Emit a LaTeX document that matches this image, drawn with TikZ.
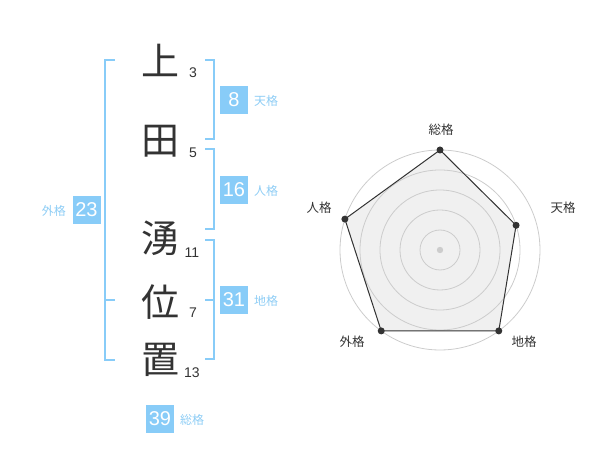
\documentclass[tikz,border=0pt]{standalone}
\usepackage{fontspec}
\usetikzlibrary{calc}
\setmainfont{Liberation Sans}
\newfontfamily\jp{Noto Sans CJK JP}
\definecolor{sky}{HTML}{88CCF8}
\definecolor{skytext}{HTML}{8ECDF5}
\definecolor{ink}{HTML}{333333}
\definecolor{ring}{HTML}{CCCCCC}
\definecolor{area}{HTML}{F0F0F0}
\begin{document}
\begin{tikzpicture}[x=1pt,y=-1pt,
  kanji/.style={font=\jp\fontsize{38}{38}\selectfont, text=ink, inner sep=0pt},
  strokes/.style={font=\fontsize{14}{14}\selectfont, text=ink, inner sep=0pt},
  br/.style={draw=sky, line width=2pt},
  numbox/.style={fill=sky, text=white, minimum width=28pt, minimum height=28pt, inner sep=0pt, font=\fontsize{20}{20}\selectfont},
  lbl/.style={text=skytext, font=\jp\fontsize{12}{12}\selectfont, inner sep=0pt},
  rlbl/.style={text=ink, font=\jp\fontsize{12.5}{12.5}\selectfont, inner sep=0pt},
  ringc/.style={draw=ring, line width=0.8pt},
  dot/.style={circle, fill=ink, inner sep=0pt, minimum size=7pt}
]
\useasboundingbox (0,0) rectangle (600,470);

% kanji
\node[kanji] (k1) at (160,60) {上};
\node[kanji] (k2) at (160,141) {田};
\node[kanji] (k3) at (160,238) {湧};
\node[kanji] (k4) at (160,302) {位};
\node[kanji] (k5) at (160,360) {置};

% stroke counts
\node[strokes] (s1) at (193,73) {3};
\node[strokes] (s2) at (193,153) {5};
\node[strokes] (s3) at (192,253) {11};
\node[strokes] (s4) at (193,313) {7};
\node[strokes] (s5) at (192,373) {13};

% brackets
\coordinate (L1) at (115,60); \coordinate (L2) at (115,360); \coordinate (L3) at (115,300);
\draw[br] (L1) -| (105,360) -- (L2);
\draw[br] (L3) -- (105,300);
\coordinate (R1a) at (205,60); \coordinate (R1b) at (205,139);
\draw[br] (R1a) -| (214,139) -- (R1b);
\coordinate (R2a) at (205,149); \coordinate (R2b) at (205,229);
\draw[br] (R2a) -| (214,229) -- (R2b);
\coordinate (R3a) at (205,240); \coordinate (R3b) at (205,359); \coordinate (R3c) at (205,300);
\draw[br] (R3a) -| (214,359) -- (R3b);
\draw[br] (R3c) -- (214,300);

% boxes and labels
\node[numbox] (b8) at (234,100) {8};
\node[lbl, anchor=west] (l8) at (254,101) {天格};
\node[numbox] (b16) at (234,190) {16};
\node[lbl, anchor=west] (l16) at (254,191) {人格};
\node[numbox] (b31) at (234,300) {31};
\node[lbl, anchor=west] (l31) at (254,301) {地格};
\node[numbox] (b23) at (86.5,210) {23};
\node[lbl, anchor=east] (l23) at (66,211) {外格};
\node[numbox] (b39) at (160,419) {39};
\node[lbl, anchor=west] (l39) at (180,420) {総格};

% radar chart
\coordinate (C) at (440,250);
\coordinate (p1) at ($(C)+(-90:100)$);
\coordinate (p2) at ($(C)+(-18:80)$);
\coordinate (p3) at ($(C)+(54:100)$);
\coordinate (p4) at ($(C)+(126:100)$);
\coordinate (p5) at ($(C)+(198:100)$);
\fill[area] (p1) -- (p2) -- (p3) -- (p4) -- (p5) -- cycle;
\foreach \r in {20,40,60,80,100} \draw[ringc] (C) circle (\r);
\fill[ring] (C) circle (3.2);
\draw[ink, line width=1pt, line join=round] (p1) -- (p2) -- (p3) -- (p4) -- (p5) -- cycle;
\foreach \p in {p1,p2,p3,p4,p5} \node[dot] at (\p) {};

\node[rlbl] (r1) at (441,130) {総格};
\node[rlbl] (r2) at (563,208) {天格};
\node[rlbl] (r3) at (524,342) {地格};
\node[rlbl] (r4) at (352,342) {外格};
\node[rlbl] (r5) at (319,208) {人格};
\end{tikzpicture}
\end{document}
